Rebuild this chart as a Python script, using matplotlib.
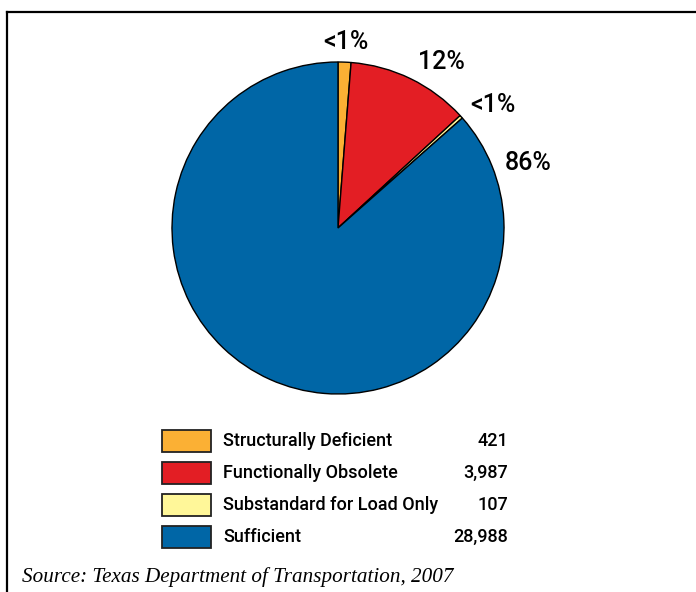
import matplotlib.pyplot as plt
from matplotlib.patches import Rectangle

categories = ["Structurally Deficient", "Functionally Obsolete",
              "Substandard for Load Only", "Sufficient"]
counts = [421, 3987, 107, 28988]
count_labels = ["421", "3,987", "107", "28,988"]
pct_labels = ["<1%", "12%", "<1%", "86%"]
colors = ["#FBB034", "#E31E24", "#FFF799", "#0066A6"]

W, H = 696, 592
fig = plt.figure(figsize=(W / 100, H / 100), dpi=100)
sans = ["Roboto", "Liberation Sans", "DejaVu Sans"]

# frame around the figure (open on the right/bottom like the original crop)
fig.add_artist(plt.Line2D([7 / W, 7 / W], [0, 1 - 12 / H], color="black", lw=1.6))
fig.add_artist(plt.Line2D([7 / W, 1], [1 - 12 / H, 1 - 12 / H], color="black", lw=1.6))

# pie
cx, cy, r = 338, 228, 166
ax = fig.add_axes([(cx - r) / W, 1 - (cy + r) / H, 2 * r / W, 2 * r / H])
ax.pie(counts, colors=colors, startangle=90, counterclock=False,
       wedgeprops=dict(edgecolor="black", linewidth=1.0))
ax.set_xlim(-1, 1)
ax.set_ylim(-1, 1)
ax.set_aspect("equal")
ax.axis("off")

# percentage labels (pixel positions)
label_pos = [(346, 42), (441, 62), (493, 105), (528, 163)]
for txt, (px, py) in zip(pct_labels, label_pos):
    fig.text(px / W, 1 - py / H, txt, ha="center", va="center",
             fontsize=18, family=sans, weight="medium")

# legend
for i, (cat, c, v) in enumerate(zip(categories, colors, count_labels)):
    yc = 441 + i * 32
    fig.add_artist(Rectangle((162 / W, 1 - (yc + 11) / H), 49 / W, 22 / H,
                             facecolor=c, edgecolor="#222222", lw=1.3,
                             transform=fig.transFigure))
    fig.text(223 / W, 1 - yc / H, cat, ha="left", va="center",
             fontsize=13, family=sans, weight="medium")
    fig.text(508 / W, 1 - yc / H, v, ha="right", va="center",
             fontsize=13, family=sans, weight="medium")

fig.text(22 / W, 1 - 577 / H, "Source: Texas Department of Transportation, 2007",
         ha="left", va="center", fontsize=15.2, style="italic",
         family=["Liberation Serif", "DejaVu Serif"])

fig.savefig("out.png", dpi=100)
